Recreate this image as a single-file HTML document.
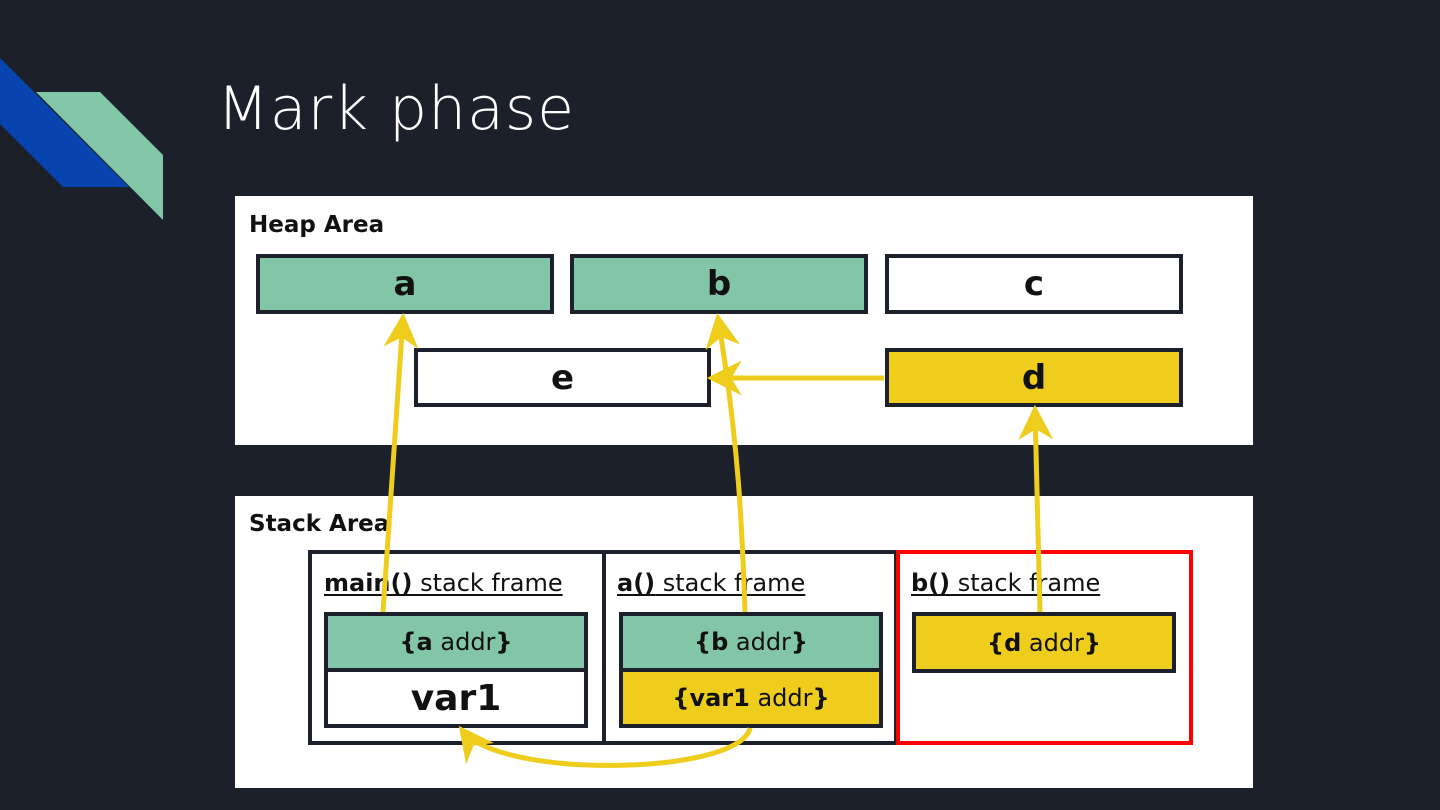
<!DOCTYPE html>
<html><head><meta charset="utf-8"><style>
*{margin:0;padding:0;box-sizing:border-box}
body{width:1440px;height:810px;background:#1c202b;position:relative;overflow:hidden;font-family:"DejaVu Sans","Liberation Sans",sans-serif}
.abs{position:absolute}
.panel{position:absolute;background:#fff}
.box{position:absolute;border:4px solid #1c202b;display:flex;align-items:center;justify-content:center;font-weight:bold;font-size:34px;color:#111}
.g{background:#82c6a7}.y{background:#eecd1d}.w{background:#fff}
.lbl{position:absolute;font-weight:bold;font-size:23px;color:#111}
.ft{position:absolute;font-size:24px;color:#111;text-decoration:underline;text-underline-offset:3px;white-space:nowrap}
.sm{font-size:24px;font-weight:normal}
</style></head><body>
<svg class="abs" style="left:0;top:0" width="200" height="240">
<polygon points="0,58 129,187 63,187 0,124" fill="#0844ad"/>
<polygon points="36,92 100,92 163,155 163,220" fill="#82c6a7"/>
</svg>
<div class="abs" style="left:217px;top:74px;font-size:60px;color:#fff;font-weight:300;font-family:'DejaVu Sans',sans-serif;letter-spacing:1px">Mark phase</div>

<div class="panel" style="left:235px;top:196px;width:1018px;height:249px"></div>
<div class="lbl" style="left:249px;top:212px">Heap Area</div>
<div class="box g" style="left:256px;top:254px;width:298px;height:60px">a</div>
<div class="box g" style="left:570px;top:254px;width:298px;height:60px">b</div>
<div class="box w" style="left:885px;top:254px;width:298px;height:60px">c</div>
<div class="box w" style="left:414px;top:348px;width:297px;height:59px">e</div>
<div class="box y" style="left:885px;top:348px;width:298px;height:59px">d</div>

<div class="panel" style="left:235px;top:496px;width:1018px;height:292px"></div>
<div class="lbl" style="left:249px;top:511px">Stack Area</div>
<div class="abs" style="left:308px;top:550px;width:590px;height:195px;border:4px solid #1c202b"></div>
<div class="abs" style="left:602px;top:550px;width:4px;height:195px;background:#1c202b"></div>
<div class="abs" style="left:896px;top:550px;width:297px;height:195px;border:4px solid #f00"></div>
<div class="ft" style="left:324px;top:569px"><b>main()</b> stack frame</div>
<div class="ft" style="left:617px;top:569px"><b>a()</b> stack frame</div>
<div class="ft" style="left:911px;top:569px"><b>b()</b> stack frame</div>
<div class="box g sm" style="left:324px;top:612px;width:264px;height:60px"><span><b>{a</b> addr<b>}</b></span></div>
<div class="box w" style="left:324px;top:668px;width:264px;height:60px;font-size:36px">var1</div>
<div class="box g sm" style="left:619px;top:612px;width:264px;height:60px"><span><b>{b</b> addr<b>}</b></span></div>
<div class="box y sm" style="left:619px;top:668px;width:264px;height:60px"><span><b>{var1</b> addr<b>}</b></span></div>
<div class="box y sm" style="left:912px;top:612px;width:264px;height:61px"><span><b>{d</b> addr<b>}</b></span></div>

<svg class="abs" style="left:0;top:0" width="1440" height="810">
<defs>
<marker id="ah" viewBox="0 0 20 20" refX="17" refY="10" markerWidth="7" markerHeight="7" markerUnits="strokeWidth" orient="auto">
<path d="M0,0 L20,10 L0,20 L6,10 Z" fill="#eecd1d"/>
</marker>
</defs>
<g stroke="#eecd1d" stroke-width="5" fill="none" marker-end="url(#ah)">
<path d="M383,612 L403,318"/>
<path d="M745,612 C742,520 738,440 718,318"/>
<path d="M1040,612 L1035,410"/>
<path d="M884,378 L712,378"/>
<path d="M750,728 C740,775 500,780 462,730"/>
</g>
</svg>
</body></html>
